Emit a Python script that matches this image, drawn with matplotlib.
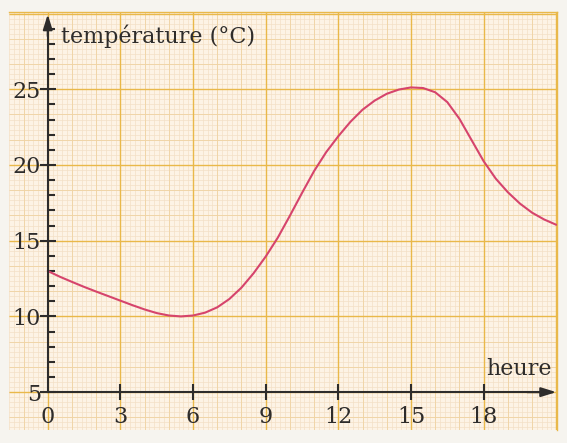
import numpy as np
import matplotlib.pyplot as plt

# temperature readings (°C) against the hour of the day
heures = [0, 0.5, 1, 1.5, 2, 2.5, 3, 3.5, 4, 4.5, 5, 5.5, 6, 6.5, 7, 7.5,
          8, 8.5, 9, 9.5, 10, 10.5, 11, 11.5, 12, 12.5, 13, 13.5, 14, 14.5,
          15, 15.5, 16, 16.5, 17, 17.5, 18, 18.5, 19, 19.5, 20, 20.5, 21]
temperatures = [13.0, 12.62, 12.28, 11.95, 11.64, 11.34, 11.04, 10.74, 10.46,
                10.22, 10.06, 10.0, 10.06, 10.25, 10.6, 11.15, 11.9, 12.85,
                13.95, 15.2, 16.65, 18.15, 19.6, 20.85, 21.9, 22.85, 23.65,
                24.25, 24.7, 24.98, 25.12, 25.08, 24.8, 24.15, 23.05, 21.65,
                20.25, 19.1, 18.2, 17.45, 16.85, 16.4, 16.05]

x_ticks = [0, 3, 6, 9, 12, 15, 18]
x_labels = ['0', '3', '6', '9', '12', '15', '18']
y_ticks = [5, 10, 15, 20, 25]
y_labels = ['5', '10', '15', '20', '25']

plt.rcParams['font.family'] = 'DejaVu Serif'

ink = '#2e2c2b'
paper = '#fdf3e5'
major_c = '#e9b84a'
medium_c = '#f0d3a2'
minor_c = '#f3e0c6'

fig = plt.figure(figsize=(5.67, 4.43), dpi=100)
fig.patch.set_facecolor('#f6f4ef')
ax = fig.add_axes([9 / 567, 13 / 443, 548 / 567, 418 / 443])
xmin, xmax = -1.6, 21.03
ymin, ymax = 2.5, 30.1
ax.set_xlim(xmin, xmax)
ax.set_ylim(ymin, ymax)
ax.set_facecolor(paper)

# graph paper
xs_minor = np.arange(-8, 106) * 0.2
ys_minor = np.arange(8, 91) / 3
ax.vlines(xs_minor, ymin, ymax, color=minor_c, lw=0.5, zorder=0)
ax.hlines(ys_minor, xmin, xmax, color=minor_c, lw=0.5, zorder=0)
ax.vlines(np.arange(-1, 22), ymin, ymax, color=medium_c, lw=0.6, zorder=0.5)
ax.hlines(np.arange(2, 19) * 5 / 3, xmin, xmax, color=medium_c, lw=0.6, zorder=0.5)
ax.vlines(np.arange(0, 22, 3), ymin, ymax, color=major_c, lw=1.0, zorder=1)
ax.hlines(np.arange(5, 31, 5), xmin, xmax, color=major_c, lw=1.0, zorder=1)

# the curve
ax.plot(heures, temperatures, color='#d6446c', lw=1.5, zorder=5,
        solid_capstyle='round', solid_joinstyle='round')

# axes
for side in ['top', 'right']:
    ax.spines[side].set_color(major_c)
    ax.spines[side].set_linewidth(1.0)
ax.spines['left'].set_position(('data', 0))
ax.spines['bottom'].set_position(('data', 5))
ax.spines['left'].set_bounds(5, 29)
ax.spines['bottom'].set_bounds(0, 20.3)
for side in ['left', 'bottom']:
    ax.spines[side].set_color(ink)
    ax.spines[side].set_linewidth(1.5)
    ax.spines[side].set_zorder(6)

arrow = dict(arrowstyle='-|>,head_length=0.9,head_width=0.28', color=ink,
             lw=1.5, shrinkA=0, shrinkB=0)
ax.annotate('', xy=(0, 29.95), xytext=(0, 28.5), arrowprops=arrow, zorder=7)
ax.annotate('', xy=(21.0, 5), xytext=(19.8, 5), arrowprops=arrow, zorder=7)

ax.set_xticks(x_ticks)
ax.set_xticklabels(x_labels)
ax.set_yticks(y_ticks)
ax.set_yticklabels(y_labels)
ax.set_yticks([v for v in range(6, 30) if v % 5], minor=True)
ax.tick_params(axis='both', which='major', direction='inout', length=12,
               width=1.5, color=ink, labelcolor=ink, labelsize=16)
ax.tick_params(axis='x', which='major', pad=4)
ax.tick_params(axis='y', which='major', pad=-1)
ax.tick_params(axis='y', which='minor', direction='in', length=5,
               width=1.5, color=ink)
ax.xaxis.get_major_ticks()[0].tick1line.set_visible(False)
ax.xaxis.get_major_ticks()[0].tick2line.set_visible(False)

ax.text(0.55, 28.05, 'température (°C)', fontsize=16, color=ink,
        va='baseline', ha='left', zorder=8)
ax.text(20.8, 6.1, 'heure', fontsize=16, color=ink,
        va='baseline', ha='right', zorder=8)

fig.savefig('out.png', dpi=100, facecolor=fig.get_facecolor())
